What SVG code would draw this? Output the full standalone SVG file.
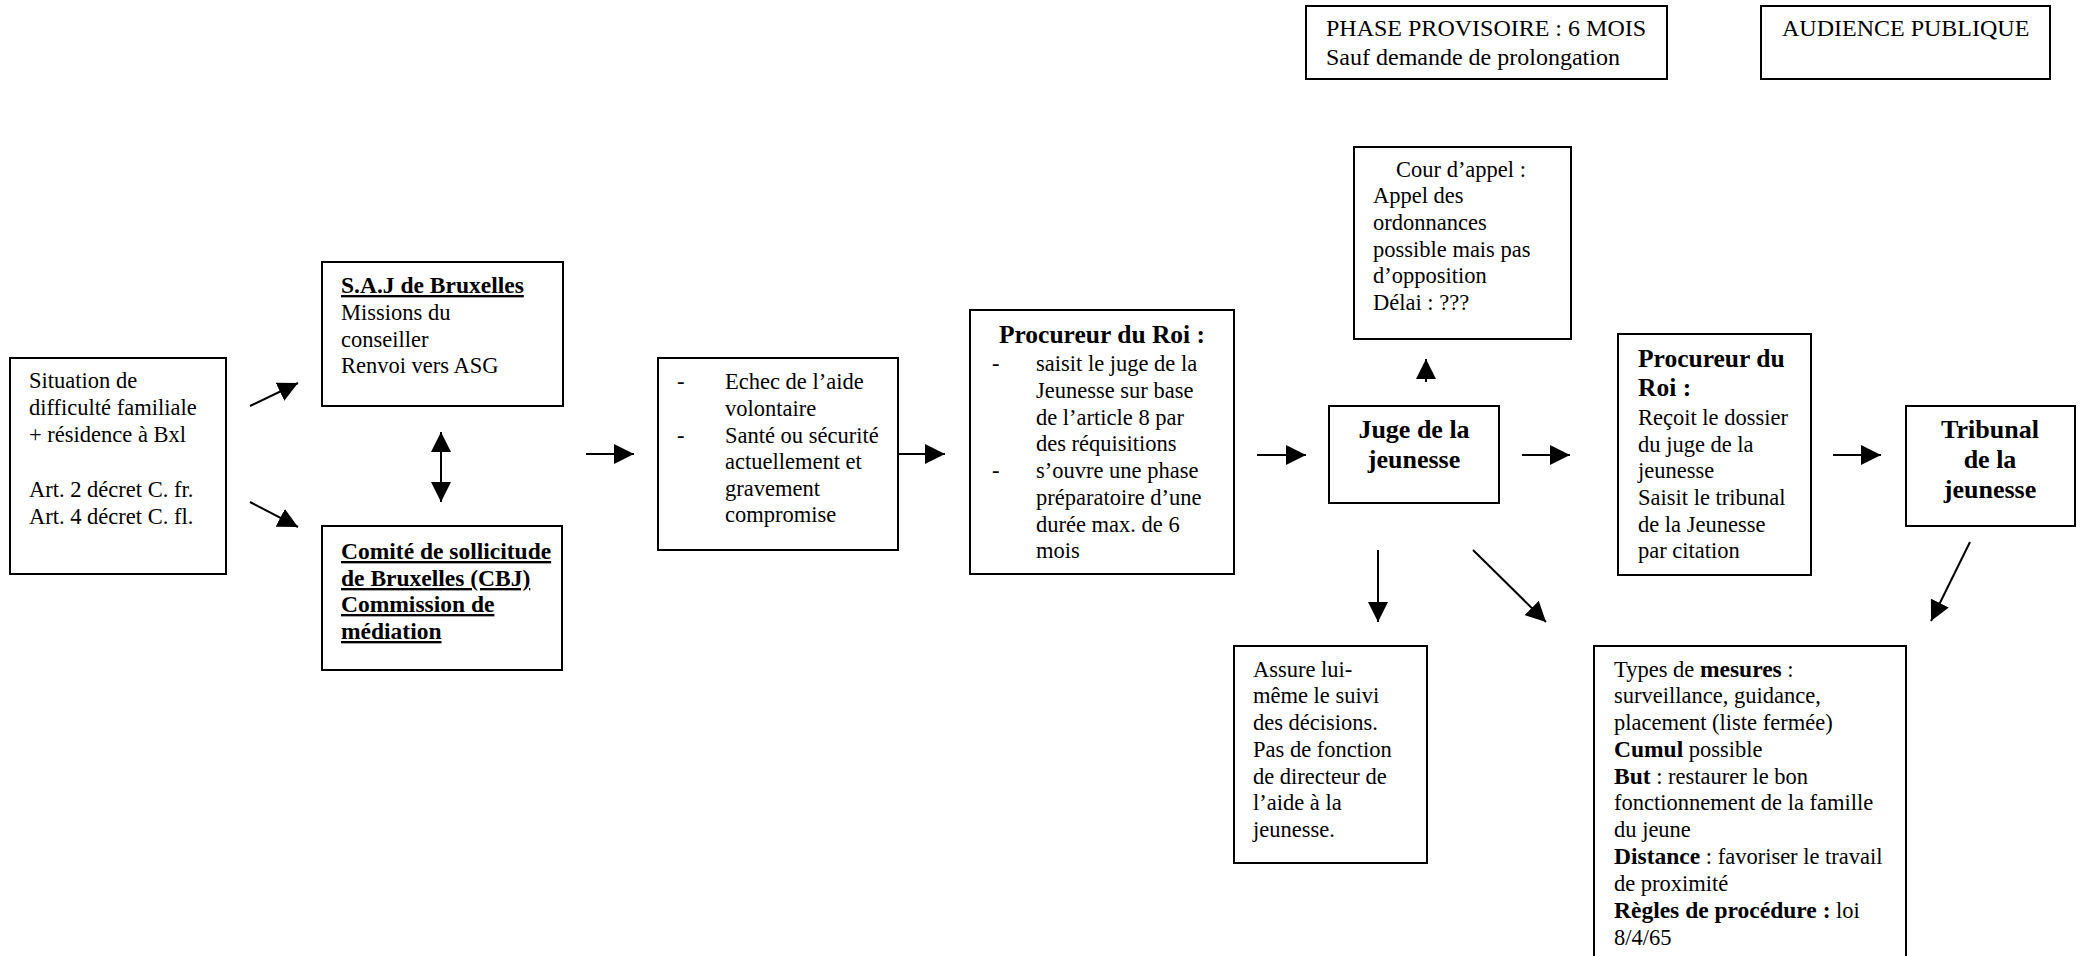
<svg xmlns="http://www.w3.org/2000/svg" width="2081" height="956" viewBox="0 0 2081 956">
<style>
.box{fill:#fff;stroke:#000;stroke-width:2}
text{font-family:"Liberation Serif","Times New Roman",serif;font-size:22.5px;fill:#000}
.b{font-weight:bold;font-size:23.5px}
.h{font-weight:bold;font-size:26px}
.p{font-weight:bold;font-size:25.5px}
.t{font-size:24px}
.u{text-decoration:underline}
.c{text-anchor:middle}
.con line{stroke:#000;stroke-width:2}
</style>
<defs>
<marker id="ah" markerUnits="userSpaceOnUse" markerWidth="20" markerHeight="20" refX="20" refY="10" orient="auto-start-reverse" viewBox="0 0 20 20">
<path d="M0,0 L20,10 L0,20 z" fill="#000"/>
</marker>
</defs>
<rect width="2081" height="956" fill="#fff"/>

<g id="situation">
<rect class="box" x="10" y="358" width="216" height="216"/>
<text x="29" y="388">Situation de</text>
<text x="29" y="415">difficulté familiale</text>
<text x="29" y="442">+ résidence à Bxl</text>
<text x="29" y="497">Art. 2 décret C. fr.</text>
<text x="29" y="524">Art. 4 décret C. fl.</text>
</g>

<g id="saj">
<rect class="box" x="322" y="262" width="241" height="144"/>
<text class="b u" x="341" y="293">S.A.J de Bruxelles</text>
<text x="341" y="320">Missions du</text>
<text x="341" y="347">conseiller</text>
<text x="341" y="373">Renvoi vers ASG</text>
</g>

<g id="comite">
<rect class="box" x="322" y="526" width="240" height="144"/>
<text class="b u" x="341" y="559">Comité de sollicitude</text>
<text class="b u" x="341" y="586">de Bruxelles (CBJ)</text>
<text class="b u" x="341" y="612">Commission de</text>
<text class="b u" x="341" y="639">médiation</text>
</g>

<g id="echec">
<rect class="box" x="658" y="358" width="240" height="192"/>
<text x="677" y="389">-</text>
<text x="725" y="389">Echec de l’aide</text>
<text x="725" y="416">volontaire</text>
<text x="677" y="443">-</text>
<text x="725" y="443">Santé ou sécurité</text>
<text x="725" y="469">actuellement et</text>
<text x="725" y="496">gravement</text>
<text x="725" y="522">compromise</text>
</g>

<g id="procureur1">
<rect class="box" x="970" y="310" width="264" height="264"/>
<text class="p c" x="1102" y="343">Procureur du Roi :</text>
<text x="992" y="371">-</text>
<text x="1036" y="371">saisit le juge de la</text>
<text x="1036" y="398">Jeunesse sur base</text>
<text x="1036" y="425">de l’article 8 par</text>
<text x="1036" y="451">des réquisitions</text>
<text x="992" y="478">-</text>
<text x="1036" y="478">s’ouvre une phase</text>
<text x="1036" y="505">préparatoire d’une</text>
<text x="1036" y="532">durée max. de 6</text>
<text x="1036" y="558">mois</text>
</g>

<g id="phase">
<rect class="box" x="1306" y="6" width="361" height="73"/>
<text class="t" x="1326" y="36">PHASE PROVISOIRE : 6 MOIS</text>
<text class="t" x="1326" y="65">Sauf demande de prolongation</text>
</g>

<g id="audience">
<rect class="box" x="1761" y="6" width="289" height="73"/>
<text class="t" x="1782" y="36">AUDIENCE PUBLIQUE</text>
</g>

<g id="cour">
<rect class="box" x="1354" y="147" width="217" height="192"/>
<text x="1396" y="177">Cour d’appel :</text>
<text x="1373" y="203">Appel des</text>
<text x="1373" y="230">ordonnances</text>
<text x="1373" y="257">possible mais pas</text>
<text x="1373" y="283">d’opposition</text>
<text x="1373" y="310">Délai : ???</text>
</g>

<g id="juge">
<rect class="box" x="1329" y="406" width="170" height="97"/>
<text class="h c" x="1414" y="438">Juge de la</text>
<text class="h c" x="1414" y="468">jeunesse</text>
</g>

<g id="procureur2">
<rect class="box" x="1618" y="334" width="193" height="241"/>
<text class="p" x="1638" y="367">Procureur du</text>
<text class="p" x="1638" y="396">Roi :</text>
<text x="1638" y="425">Reçoit le dossier</text>
<text x="1638" y="452">du juge de la</text>
<text x="1638" y="478">jeunesse</text>
<text x="1638" y="505">Saisit le tribunal</text>
<text x="1638" y="532">de la Jeunesse</text>
<text x="1638" y="558">par citation</text>
</g>

<g id="tribunal">
<rect class="box" x="1906" y="406" width="169" height="120"/>
<text class="h c" x="1990" y="438">Tribunal</text>
<text class="h c" x="1990" y="468">de la</text>
<text class="h c" x="1990" y="498">jeunesse</text>
</g>

<g id="assure">
<rect class="box" x="1234" y="646" width="193" height="217"/>
<text x="1253" y="677">Assure lui-</text>
<text x="1253" y="703">même le suivi</text>
<text x="1253" y="730">des décisions.</text>
<text x="1253" y="757">Pas de fonction</text>
<text x="1253" y="784">de directeur de</text>
<text x="1253" y="810">l’aide à la</text>
<text x="1253" y="837">jeunesse.</text>
</g>

<g id="mesures">
<rect class="box" x="1594" y="646" width="312" height="330"/>
<text x="1614" y="677">Types de <tspan class="b">mesures</tspan> :</text>
<text x="1614" y="703">surveillance, guidance,</text>
<text x="1614" y="730">placement (liste fermée)</text>
<text x="1614" y="757"><tspan class="b">Cumul</tspan> possible</text>
<text x="1614" y="784"><tspan class="b">But</tspan> : restaurer le bon</text>
<text x="1614" y="810">fonctionnement de la famille</text>
<text x="1614" y="837">du jeune</text>
<text x="1614" y="864"><tspan class="b">Distance</tspan> : favoriser le travail</text>
<text x="1614" y="891">de proximité</text>
<text x="1614" y="918"><tspan class="b">Règles de procédure :</tspan> loi</text>
<text x="1614" y="945">8/4/65</text>
</g>

<g id="connectors" class="con">
<line x1="250" y1="406" x2="298" y2="383" marker-end="url(#ah)"/>
<line x1="250" y1="502" x2="298" y2="527" marker-end="url(#ah)"/>
<line x1="441" y1="432" x2="441" y2="502" marker-start="url(#ah)" marker-end="url(#ah)"/>
<line x1="586" y1="454" x2="634" y2="454" marker-end="url(#ah)"/>
<line x1="898" y1="454" x2="945" y2="454" marker-end="url(#ah)"/>
<line x1="1257" y1="455" x2="1306" y2="455" marker-end="url(#ah)"/>
<line x1="1426" y1="382" x2="1426" y2="359" marker-end="url(#ah)"/>
<line x1="1522" y1="455" x2="1570" y2="455" marker-end="url(#ah)"/>
<line x1="1833" y1="455" x2="1881" y2="455" marker-end="url(#ah)"/>
<line x1="1378" y1="550" x2="1378" y2="622" marker-end="url(#ah)"/>
<line x1="1473" y1="550" x2="1546" y2="622" marker-end="url(#ah)"/>
<line x1="1970" y1="542" x2="1931" y2="621" marker-end="url(#ah)"/>
</g>
</svg>
